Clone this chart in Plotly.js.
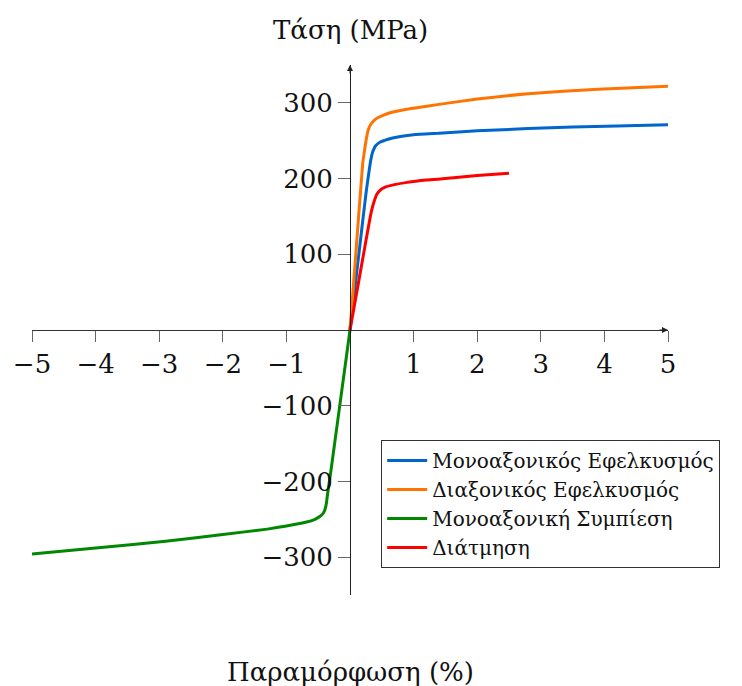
<!DOCTYPE html>
<html>
<head>
<meta charset="utf-8">
<script src="https://cdn.plot.ly/plotly-3.0.1.min.js"></script>
<style>html,body{margin:0;padding:0;background:#fff;}#chart{width:742px;height:686px;}</style>
</head>
<body>
<div id="chart"></div>
<script>
// Series names
const seriesNames = ["Μονοαξονικός Εφελκυσμός", "Διαξονικός Εφελκυσμός", "Μονοαξονική Συμπίεση", "Διάτμηση"];

// Uniaxial tension
const uniTensionStrain = [0, 0.1, 0.2, 0.26, 0.3, 0.33, 0.36, 0.4, 0.47, 0.6, 0.75, 1.0, 1.4, 2.0, 2.8, 3.5, 4.2, 5.0];
const uniTensionStress = [0, 72, 144, 186, 210, 226, 236, 243, 248, 252, 255, 258, 260, 263, 266, 268, 269.5, 271];

// Biaxial tension
const biTensionStrain = [0, 0.1, 0.2, 0.23, 0.26, 0.29, 0.33, 0.38, 0.45, 0.63, 0.85, 1.0, 1.4, 2.0, 2.8, 3.9, 5.0];
const biTensionStress = [0, 110, 220, 238, 254, 265, 272, 277, 281, 287, 291, 293, 298, 305, 312, 318, 322];

// Uniaxial compression
const uniCompStrain = [0, -0.1, -0.2, -0.3, -0.35, -0.37, -0.39, -0.42, -0.47, -0.55, -0.7, -1.0, -1.3, -2.0, -2.9, -4.0, -5.0];
const uniCompStress = [0, -62, -124, -186, -215, -228, -236, -242, -246, -250, -254, -259, -263, -270, -279, -288, -296];

// Shear
const shearStrain = [0, 0.1, 0.2, 0.3, 0.34, 0.38, 0.42, 0.48, 0.56, 0.7, 0.9, 1.2, 1.5, 2.0, 2.5];
const shearStress = [0, 47, 94, 141, 158, 170, 179, 185, 189, 192, 195, 198, 200, 204, 207];

// Ticks
const xTicks = [-5, -4, -3, -2, -1, 1, 2, 3, 4, 5];
const yTicks = [-300, -200, -100, 100, 200, 300];

const xTitle = "Παραμόρφωση (%)";
const yTitle = "Τάση (MPa)";

const colors = ["#0066cc", "#ff7300", "#008800", "#ff0000"];
const xs = [uniTensionStrain, biTensionStrain, uniCompStrain, shearStrain];
const ys = [uniTensionStress, biTensionStress, uniCompStress, shearStress];

const font = "DejaVu Serif, Liberation Serif, serif";

const traces = seriesNames.map((n, i) => ({
  x: xs[i], y: ys[i], name: n, type: "scatter", mode: "lines",
  line: {color: colors[i], width: 3, shape: "spline", smoothing: 0.5},
  cliponaxis: false
}));

const layout = {
  width: 742, height: 686,
  margin: {l: 32, r: 74, t: 65, b: 91},
  paper_bgcolor: "#fff", plot_bgcolor: "#fff",
  font: {family: font, size: 26, color: "#111"},
  showlegend: true,
  legend: {
    x: 0.549, y: 0.2925, xanchor: "left", yanchor: "top",
    bordercolor: "#333", borderwidth: 1, bgcolor: "#fff",
    font: {family: font, size: 20, color: "#111"},
    itemwidth: 40, tracegroupgap: 0
  },
  xaxis: {
    range: [-5, 5], anchor: "free", position: 0.5,
    showgrid: false, zeroline: false, showline: true, linecolor: "#333", linewidth: 1,
    tickmode: "array", tickvals: xTicks, ticks: "outside", ticklen: 11, tickcolor: "#666", tickwidth: 1,
    tickfont: {family: font, size: 26, color: "#111"}
  },
  yaxis: {
    range: [-350, 350], anchor: "free", position: 0.5,
    showgrid: false, zeroline: false, showline: true, linecolor: "#222", linewidth: 1,
    tickmode: "array", tickvals: yTicks, ticks: "outside", ticklen: 12, tickcolor: "#666", tickwidth: 1,
    tickfont: {family: font, size: 26, color: "#111"}
  },
  annotations: [
    {xref: "x", yref: "y", x: 0, y: 350, ax: 0, ay: 10, showarrow: true, arrowhead: 2, arrowsize: 1.2, arrowwidth: 1, arrowcolor: "#222", text: ""},
    {xref: "x", yref: "y", x: 5, y: 0, ax: -10, ay: 0, showarrow: true, arrowhead: 2, arrowsize: 1.2, arrowwidth: 1, arrowcolor: "#222", text: ""},
    {xref: "paper", yref: "paper", x: 0.5, y: 1, yshift: 35, xanchor: "center", yanchor: "middle", showarrow: false, text: yTitle, font: {family: font, size: 26, color: "#111"}},
    {xref: "paper", yref: "paper", x: 0.5, y: 0, yshift: -77, xanchor: "center", yanchor: "middle", showarrow: false, text: xTitle, font: {family: font, size: 26, color: "#111"}}
  ]
};

Plotly.newPlot("chart", traces, layout, {displayModeBar: false, staticPlot: true});
</script>
</body>
</html>
